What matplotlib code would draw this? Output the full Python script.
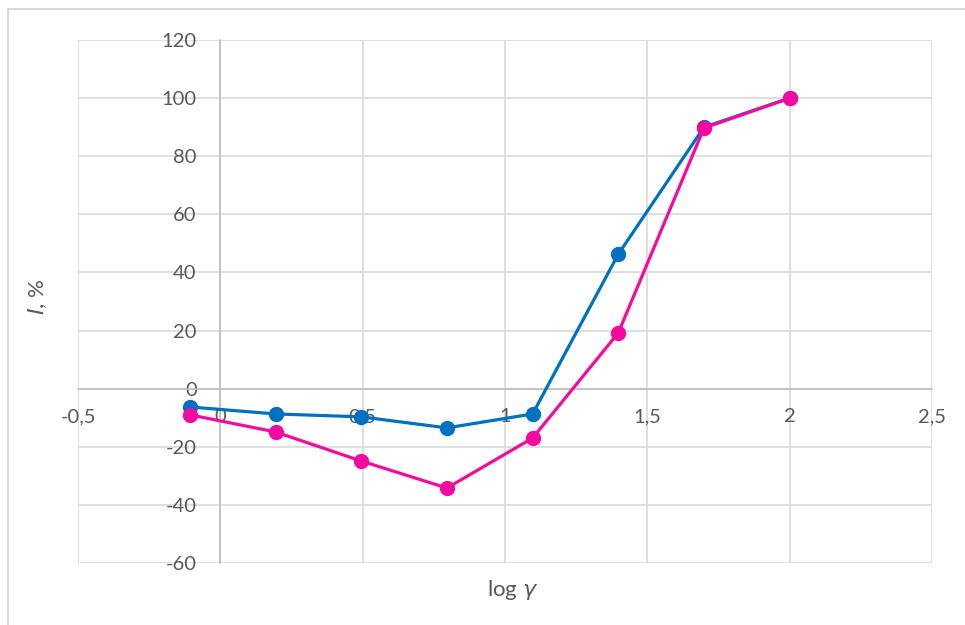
import matplotlib
matplotlib.use("Agg")
import matplotlib.pyplot as plt
from matplotlib.patches import Rectangle

plt.rcParams["font.family"] = ["Lato", "DejaVu Sans"]

# data
log_gamma = [-0.107, 0.194, 0.495, 0.796, 1.097, 1.398, 1.699, 2.0]
series_blue = [-6.3, -8.7, -9.7, -13.5, -8.7, 46.3, 90.0, 100.0]
series_pink = [-9.0, -14.9, -24.9, -34.2, -17.0, 19.2, 89.7, 100.0]

x_ticks = [-0.5, 0, 0.5, 1, 1.5, 2, 2.5]
x_tick_labels = ["-0,5", "0", "0,5", "1", "1,5", "2", "2,5"]
y_ticks = [-60, -40, -20, 0, 20, 40, 60, 80, 100, 120]
y_tick_labels = [str(v) for v in y_ticks]

BLUE = "#0070C0"
PINK = "#F50AA0"
GRID = "#D9D9D9"
AXIS = "#BFBFBF"
TXT = "#595959"

fig = plt.figure(figsize=(9.65, 6.25), dpi=100)
# chart area border (partly cropped in the reference)
fig.patches.append(Rectangle((8 / 965, -0.1), 1.2, 1 - 9 / 625 + 0.1,
                             transform=fig.transFigure, fill=False,
                             edgecolor="#D9D9D9", lw=1.5))

ax = fig.add_axes([78 / 965, 1 - 563 / 625, (932 - 78) / 965, (563 - 40) / 625])

ax.plot(log_gamma, series_blue, color=BLUE, lw=2.3, marker="o", ms=10,
        zorder=4, clip_on=False)
ax.plot(log_gamma, series_pink, color=PINK, lw=2.3, marker="o", ms=10,
        zorder=5, clip_on=False)

ax.set_xlim(-0.5, 2.5)
ax.set_ylim(-60, 120)
ax.set_xticks(x_ticks)
ax.set_xticklabels(x_tick_labels)
ax.set_yticks(y_ticks)
ax.set_yticklabels(y_tick_labels)
ax.grid(True, color=GRID, lw=1.2, zorder=0)
ax.set_axisbelow(True)

ax.spines["left"].set_position(("data", 0))
ax.spines["bottom"].set_position(("data", 0))
ax.spines["top"].set_visible(False)
ax.spines["right"].set_visible(False)
for s in ("left", "bottom"):
    ax.spines[s].set_color(AXIS)
    ax.spines[s].set_linewidth(1.2)
    ax.spines[s].set_zorder(1)

ax.tick_params(axis="both", length=0, labelsize=14.5, labelcolor=TXT)
ax.tick_params(axis="y", pad=17)
ax.tick_params(axis="x", pad=14)

fig.text(38 / 965, 1 - 297 / 625, r"$\mathit{I}$, %", rotation=90,
         ha="center", va="center", fontsize=16, color=TXT)
fig.text(513 / 965, 1 - 590 / 625, r"log $\mathit{\gamma}$",
         ha="center", va="center", fontsize=16, color=TXT)

fig.savefig("out.png", dpi=100)
